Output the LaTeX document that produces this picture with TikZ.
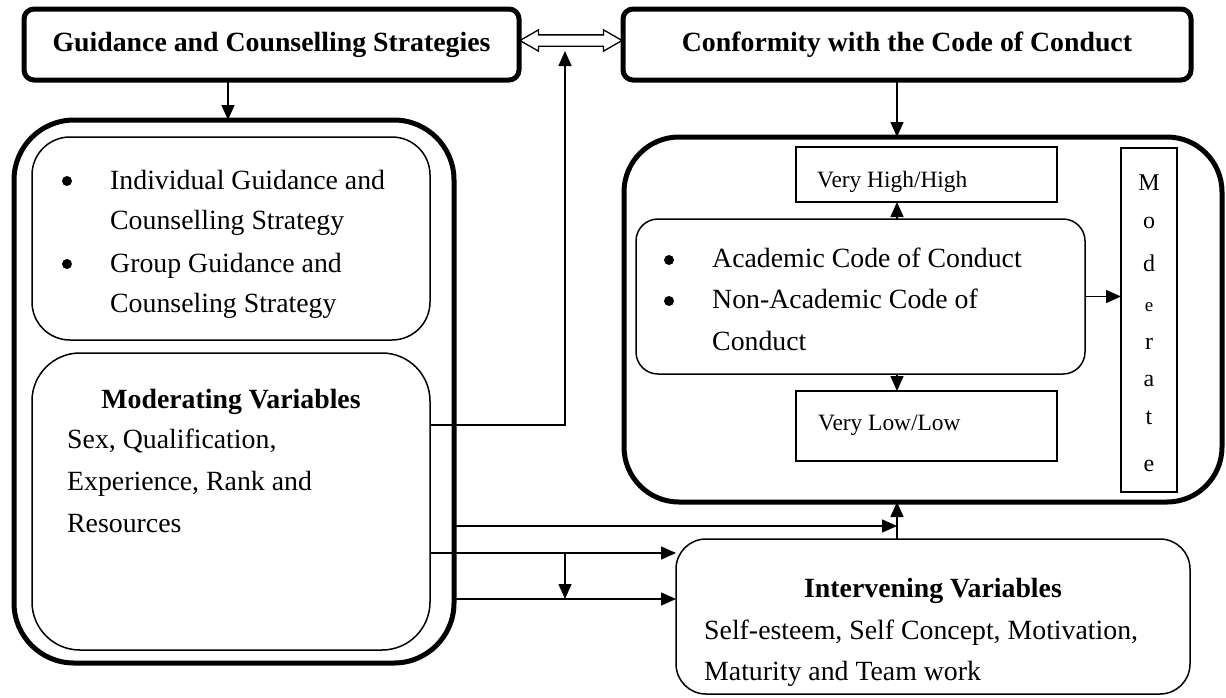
\documentclass[tikz,border=0pt]{standalone}
\usepackage{fontspec}
\setmainfont{Liberation Serif}
\usetikzlibrary{calc,positioning,arrows.meta,shapes.arrows}

\newcommand\bodysize{\fontsize{27.8pt}{40pt}\selectfont}
\newcommand\smallsize{\fontsize{23.4pt}{28pt}\selectfont}

\tikzset{
  headbox/.style={draw,line width=5pt,rounded corners=10pt,inner sep=0pt,outer sep=0pt,font=\bodysize\bfseries},
  outerbox/.style={draw,line width=5pt,inner sep=0pt,outer sep=0pt},
  innerbox/.style={draw,line width=1.5pt,inner sep=0pt,outer sep=0pt},
  conn/.style={line width=1.5pt,-{Triangle[length=15pt,width=13pt]}},
  txt/.style={anchor=base west,inner sep=0pt},
  bul/.style={circle,fill,inner sep=0pt,minimum size=10pt},
  ttl/.style={anchor=base,inner sep=0pt,font=\bodysize\bfseries},
  modletter/.style={anchor=base,inner sep=0pt,font=\fontsize{24pt}{24pt}\selectfont}
}

\begin{document}
\begin{tikzpicture}[x=1pt,y=-1pt,font=\bodysize]
\useasboundingbox (0,0) rectangle (1226,697);
% top boxes
\node[headbox,minimum width=495pt,minimum height=71pt](guide) at (271.5,44.5){Guidance and Counselling Strategies};
\node[headbox,minimum width=568pt,minimum height=71pt](conform) at (907,44.5){Conformity with the Code of Conduct};
\node[draw,line width=1.3pt,double arrow,double arrow head extend=5pt,double arrow tip angle=60,
  inner sep=0pt,inner ysep=5pt,minimum height=102pt](link) at ($(guide.east)!.5!(conform.west)+(0,-4)$){};

% left side
\node[outerbox,rounded corners=60pt,minimum width=440pt,minimum height=543pt](leftouter) at (234,391.5){};
\node[innerbox,rounded corners=38pt,minimum width=398pt,minimum height=203pt](strat) at (231,238.5){};
\node[innerbox,rounded corners=48pt,minimum width=398pt,minimum height=297pt](modvar) at (231,501.5){};
\node[bul](b1) at (67,181){};
\node[txt](s1) at (110,189){Individual Guidance and};
\node[txt](s2) at (110,229){Counselling Strategy};
\node[bul](b2) at (67,264){};
\node[txt](s3) at (110,272){Group Guidance and};
\node[txt](s4) at (110,312){Counseling Strategy};
\node[ttl](mtitle) at (231,408){Moderating Variables};
\node[txt](m1) at (67,448){Sex, Qualification,};
\node[txt](m2) at (67,490){Experience, Rank and};
\node[txt](m3) at (67,532){Resources};

% right side
\node[outerbox,rounded corners=55pt,minimum width=598pt,minimum height=365pt](rightouter) at (923,319.5){};
\node[innerbox,minimum width=261pt,minimum height=55pt](high) at (926.5,174.5){};
\node[txt,font=\smallsize](hight) at (817,187){Very High/High};
\node[innerbox,rounded corners=22pt,minimum width=449pt,minimum height=155pt](acad) at (860.5,296.5){};
\node[bul](b3) at (669,260){};
\node[txt](a1) at (712,267){Academic Code of Conduct};
\node[bul](b4) at (669,301){};
\node[txt](a2) at (712,308){Non-Academic Code of};
\node[txt](a3) at (712,350){Conduct};
\node[innerbox,minimum width=261pt,minimum height=70pt](low) at (926.5,426){};
\node[txt,font=\smallsize](lowt) at (818,430){Very Low/Low};
\node[innerbox,minimum width=56pt,minimum height=344pt](mod) at (1149,320){};
\foreach \l/\y in {M/190,o/228,d/271,r/349,a/386,t/424,e/471}
  \node[modletter](ml\y) at (1149,\y){\l};
\node[modletter,font=\fontsize{19pt}{19pt}\selectfont](ml311) at (1149,311){e};

% intervening
\node[innerbox,rounded corners=30pt,minimum width=514pt,minimum height=155pt](interv) at (933,616.5){};
\node[ttl](ititle) at (933,597){Intervening Variables};
\node[txt](i1) at (704,639){Self-esteem, Self Concept, Motivation,};
\node[txt](i2) at (704,680){Maturity and Team work};

% connectors
\coordinate(col) at (897,0);
\coordinate(split) at (565,0);
\coordinate(linkfoot) at (565,51);
\draw[conn](guide.south-|228,0)--(leftouter.north-|228,0);
\draw[conn](modvar.east|-0,425)-|(linkfoot);
\draw[conn](conform.south-|col)--(rightouter.north-|col);
\draw[conn](acad.north-|col)--(high.south-|col);
\draw[conn](acad.south-|col)--(low.north-|col);
\draw[conn](acad.east)--(acad.east-|mod.west);
\draw[conn](interv.north-|col)--(rightouter.south-|col);
\draw[conn](leftouter.east|-0,526)--(col|-0,526);
\draw[conn](modvar.east|-0,553)--(interv.west|-0,553);
\draw[conn](leftouter.east|-0,599)--(interv.west|-0,599);
\draw[conn](split|-0,553)--(split|-0,599);
\end{tikzpicture}
\end{document}
